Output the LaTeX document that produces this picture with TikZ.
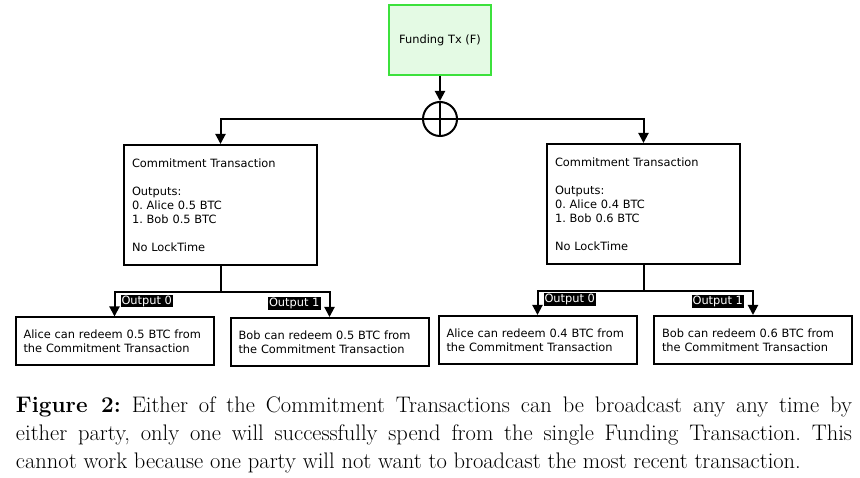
\documentclass[tikz,border=0pt]{standalone}
\usepackage{fontspec}
\newfontfamily\boxfont{DejaVu Sans}
\usepackage{tikz}
\usetikzlibrary{positioning,arrows.meta}
\definecolor{fundfill}{RGB}{228,250,228}
\definecolor{fundline}{RGB}{60,225,60}
\frenchspacing

\begin{document}
\begin{tikzpicture}[x=1pt, y=-1pt, line width=2pt, >={Triangle[length=10pt,width=10pt]},
    tx/.style={rectangle, draw, font=\boxfont\fontsize{11.4}{14}\selectfont, align=left, inner sep=8pt},
    commit/.style={tx, minimum height=120pt, text width=177pt},
    leaf/.style={tx, minimum height=48pt, text width=182pt},
    outlbl/.style={fill=black, text=white, font=\boxfont\fontsize{11.4}{12}\selectfont, inner sep=1pt}]
        \useasboundingbox (0,0) rectangle (860,478);
        \node[tx, fill=fundfill, draw=fundline, minimum width=102pt, minimum height=70pt, align=center] (fund) at (440,40) {Funding Tx (F)};
        \node[circle, draw, minimum size=34pt, inner sep=0pt] (xor) at (440,119) {};
        \node[commit] (cl) at (220.5,205) {Commitment Transaction\\[14pt]Outputs:\\0. Alice 0.5 BTC\\1. Bob 0.5 BTC\\[14pt]No LockTime};
        \node[commit] (cr) at (643.5,204) {Commitment Transaction\\[14pt]Outputs:\\0. Alice 0.4 BTC\\1. Bob 0.6 BTC\\[14pt]No LockTime};
        \node[leaf] (ll) at (114.5,341.5) {Alice can redeem 0.5 BTC from\\the Commitment Transaction};
        \node[leaf] (lr) at (329.5,342) {Bob can redeem 0.5 BTC from\\the Commitment Transaction};
        \node[leaf] (rl) at (537.5,340) {Alice can redeem 0.4 BTC from\\the Commitment Transaction};
        \node[leaf] (rr) at (753,340) {Bob can redeem 0.6 BTC from\\the Commitment Transaction};
        \coordinate[below=26pt of cl] (jl);
        \coordinate[below=26pt of cr] (jr);

        \draw[->] (fund) -- (xor);
        \draw (xor.north) -- (xor.south);
        \draw (xor.west) -- (xor.east);
        \draw[->] (xor) -| (cl);
        \draw[->] (xor) -| (cr);
        \draw[->] (cl) -- (jl) -| (ll);
        \draw[->] (jl) -| (lr);
        \draw[->] (cr) -- (jr) -| (rl);
        \draw[->] (jr) -| (rr);

        \node[outlbl, above right=8pt and 5pt of ll.north] (o0l) {Output 0};
        \node[outlbl, above left=6pt and 8pt of lr.north] (o1l) {Output 1};
        \node[outlbl, above right=8pt and 5pt of rl.north] (o0r) {Output 0};
        \node[outlbl, above left=6pt and 8pt of rr.north] (o1r) {Output 1};

        \node[anchor=north west, text width=836pt, align=justify, inner sep=0pt, font=\fontsize{22.5}{28}\selectfont] (cap) at (15,396)
            {\textbf{Figure 2:} Either of the Commitment Transactions can be broadcast any any time by\linebreak either party, only one will successfully spend from the single Funding Transaction. This\linebreak cannot work because one party will not want to broadcast the most recent transaction.};
    \end{tikzpicture}
\end{document}
